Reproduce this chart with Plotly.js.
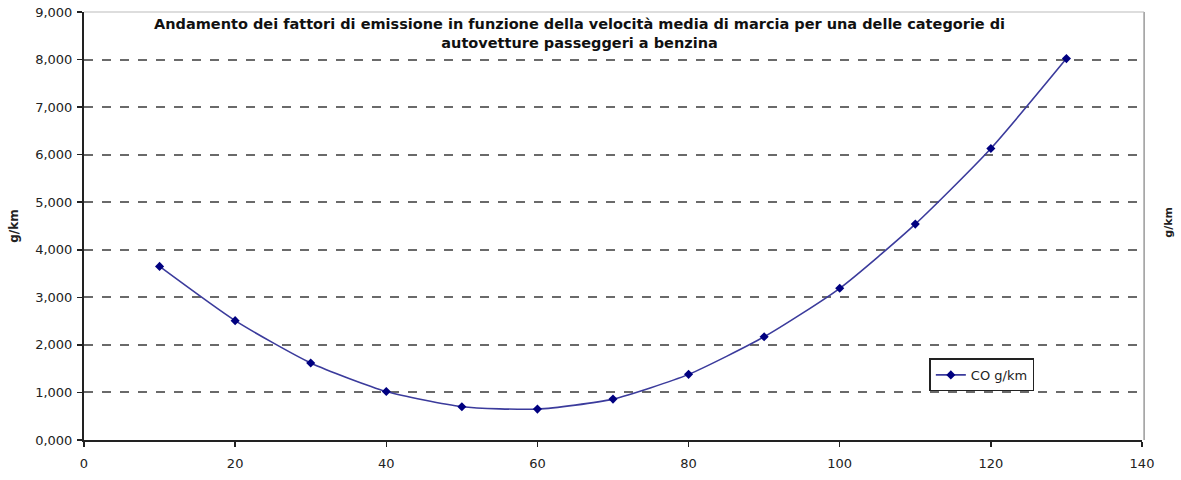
<!DOCTYPE html>
<html><head><meta charset="utf-8">
<script src="https://cdn.plot.ly/plotly-3.0.1.min.js"></script>
<style>html,body{margin:0;padding:0;background:#fff}#c{width:1181px;height:480px}</style>
</head><body><div id="c"></div>
<script>
const speeds = [10, 20, 30, 40, 50, 60, 70, 80, 90, 100, 110, 120, 130];
const coValues = [3.65, 2.51, 1.62, 1.02, 0.70, 0.65, 0.86, 1.38, 2.17, 3.19, 4.54, 6.13, 8.02];
const yTickVals = [0, 1, 2, 3, 4, 5, 6, 7, 8, 9];
const yTickText = ["0,000", "1,000", "2,000", "3,000", "4,000", "5,000", "6,000", "7,000", "8,000", "9,000"];
const xTickVals = [0, 20, 40, 60, 80, 100, 120, 140];
const seriesName = "CO g/km";
const titleText = "Andamento dei fattori di emissione in funzione della velocità media di marcia per una delle categorie di<br>autovetture passeggeri a benzina";

const font = "DejaVu Sans, Liberation Sans, Arial, sans-serif";
const trace = {
  x: speeds, y: coValues, type: "scatter", mode: "lines+markers", name: seriesName,
  line: {color: "#3b3b9c", width: 1.6, shape: "spline", smoothing: 0.6},
  marker: {symbol: "diamond", size: 7, color: "#000080"}
};
const layout = {
  width: 1181, height: 480,
  margin: {l: 84, r: 39, t: 12, b: 40},
  paper_bgcolor: "#fff", plot_bgcolor: "#fff",
  font: {family: font, size: 13, color: "#222"},
  showlegend: true,
  legend: {x: 0.799, y: 0.152, xanchor: "left", yanchor: "middle", bgcolor: "#fff",
    bordercolor: "#222", borderwidth: 1.5, font: {family: font, size: 13, color: "#222"}},
  xaxis: {range: [0, 140], tickvals: xTickVals, ticks: "outside", ticklen: 5, tickcolor: "#222",
    tickwidth: 1.5, ticklabelstandoff: 5,
    showline: true, linecolor: "#222", linewidth: 2, showgrid: false, zeroline: false,
    tickfont: {family: font, size: 13, color: "#222"}},
  yaxis: {range: [0, 9], tickvals: yTickVals, ticktext: yTickText, ticks: "outside", ticklen: 5,
    tickcolor: "#222", tickwidth: 1.5, ticklabelstandoff: 2, showline: true, linecolor: "#222", linewidth: 2,
    showgrid: true, gridcolor: "#6a6a6a", griddash: "dash", gridwidth: 2, zeroline: false,
    tickfont: {family: font, size: 13, color: "#222"},
    title: {text: "<b>g/km</b>", standoff: 14, font: {family: font, size: 12, color: "#222"}}},
  shapes: [
    {type: "line", xref: "paper", yref: "paper", x0: 1.002, x1: 1.002, y0: 0, y1: 1,
     line: {color: "#999", width: 1.5}},
    {type: "line", xref: "paper", yref: "paper", x0: 0, x1: 1.002, y0: 1, y1: 1,
     line: {color: "#bbb", width: 1}}
  ],
  annotations: [
    {text: "<b>" + titleText + "</b>", xref: "paper", yref: "paper", x: 0.468, y: 0.995,
     xanchor: "center", yanchor: "top", showarrow: false, align: "center",
     font: {family: font, size: 14.5, color: "#111"}, bgcolor: "#fff"},
    {text: "<b>g/km</b>", xref: "paper", yref: "paper", x: 1.0335, y: 0.51, textangle: -90,
     showarrow: false, font: {family: font, size: 11, color: "#222"}}
  ]
};
Plotly.newPlot("c", [trace], layout, {displayModeBar: false, staticPlot: true});
</script></body></html>
